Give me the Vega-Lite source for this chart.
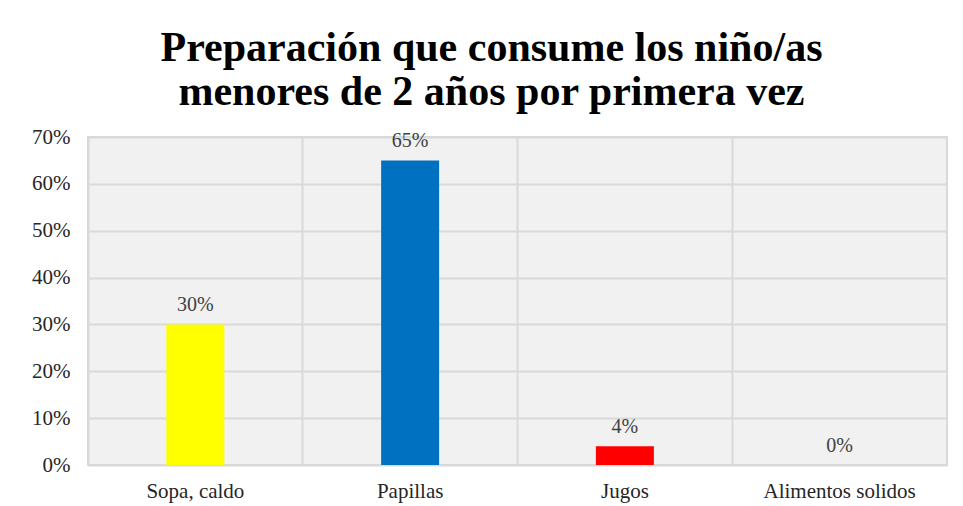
{
  "$schema": "https://vega.github.io/schema/vega-lite/v6.json",
  "width": 859,
  "height": 328,
  "autosize": {"type": "none"},
  "padding": {"left": 88, "top": 137, "right": 16, "bottom": 41},
  "background": "white",
  "title": {
    "text": ["Preparación que consume los niño/as", "menores de 2 años por primera vez"],
    "font": "Liberation Serif",
    "fontSize": 42,
    "fontWeight": "bold",
    "color": "#000000",
    "lineHeight": 44,
    "anchor": "middle",
    "frame": "group",
    "dx": -26,
    "offset": 12
  },
  "data": {
    "values": [
      {"categoria": "Sopa, caldo", "porcentaje": 0.30},
      {"categoria": "Papillas", "porcentaje": 0.65},
      {"categoria": "Jugos", "porcentaje": 0.04},
      {"categoria": "Alimentos solidos", "porcentaje": 0.0}
    ]
  },
  "encoding": {
    "x": {
      "field": "categoria",
      "type": "nominal",
      "sort": null,
      "scale": {"paddingInner": 0, "paddingOuter": 0},
      "axis": {
        "title": null,
        "labelAngle": 0,
        "labelFont": "Liberation Serif",
        "labelFontSize": 21,
        "labelColor": "#262626",
        "labelPadding": 15,
        "domain": false,
        "ticks": false,
        "grid": true,
        "bandPosition": 0,
        "gridColor": "#d9d9d9",
        "gridWidth": 2
      }
    },
    "y": {
      "field": "porcentaje",
      "type": "quantitative",
      "scale": {"domain": [0, 0.7], "nice": false},
      "axis": {
        "title": null,
        "values": [0, 0.1, 0.2, 0.3, 0.4, 0.5, 0.6, 0.7],
        "format": ".0%",
        "labelFont": "Liberation Serif",
        "labelFontSize": 21,
        "labelColor": "#262626",
        "labelPadding": 18,
        "domain": false,
        "ticks": false,
        "grid": true,
        "gridColor": "#d9d9d9",
        "gridWidth": 2
      }
    }
  },
  "layer": [
    {
      "mark": {"type": "bar", "width": {"band": 0.27}},
      "encoding": {
        "color": {
          "field": "categoria",
          "type": "nominal",
          "scale": {
            "domain": ["Sopa, caldo", "Papillas", "Jugos", "Alimentos solidos"],
            "range": ["#FFFF00", "#0070C0", "#FF0000", "#A5A5A5"]
          },
          "legend": null
        }
      }
    },
    {
      "mark": {
        "type": "text",
        "font": "Liberation Serif",
        "fontSize": 20,
        "color": "#404040",
        "baseline": "bottom",
        "dy": -9
      },
      "encoding": {
        "text": {"field": "porcentaje", "type": "quantitative", "format": ".0%"}
      }
    }
  ],
  "config": {
    "view": {"fill": "#f1f1f1", "stroke": "#d9d9d9", "strokeWidth": 2}
  }
}
